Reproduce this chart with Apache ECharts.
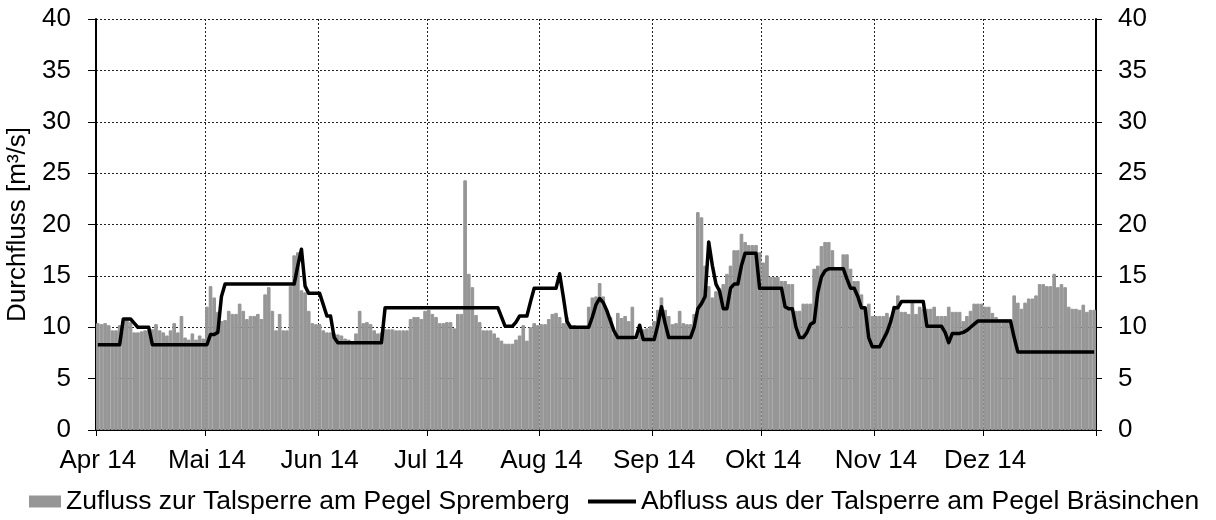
<!DOCTYPE html>
<html>
<head>
<meta charset="utf-8">
<script src="https://cdn.jsdelivr.net/npm/echarts@6/dist/echarts.min.js"></script>
<style>html,body{margin:0;padding:0;background:#fff;}#c{width:1216px;height:520px;}</style>
</head>
<body>
<div id="c"></div>
<script>
// Month definition (Apr–Dec 2014)
const monthLabels = ['Apr 14','Mai 14','Jun 14','Jul 14','Aug 14','Sep 14','Okt 14','Nov 14','Dez 14'];
const monthDays = [30,31,30,31,31,30,31,30,31];
const yTicks = [0,5,10,15,20,25,30,35,40];
const seriesNames = ['Zufluss zur Talsperre am Pegel Spremberg','Abfluss aus der Talsperre am Pegel Bräsinchen'];

// Daily inflow (Zufluss), m³/s
const zuflussApr = [10.4,10.3,10.4,10.2,9.7,9.7,10.2,10.6,10.8,10.5,9.5,9.5,9.6,9.7,9.8,9.8,10.3,9.7,9.5,9.2,9.7,10.4,9.5,11.1,9.0,8.8,9.4,8.8,9.2,8.9];
const zuflussMai = [12.0,14.0,12.9,11.5,10.6,10.7,11.6,11.3,11.3,12.3,11.6,10.8,11.1,11.1,11.3,10.8,13.2,13.9,11.6,9.7,11.3,9.7,9.7,14.0,17.0,17.3,13.6,13.4,11.6,10.4,10.3];
const zuflussJun = [10.3,9.7,9.5,9.5,9.4,9.3,9.2,8.9,8.8,8.6,9.4,11.6,10.4,10.5,10.3,9.7,9.4,9.5,9.8,9.8,9.8,9.7,9.7,9.7,9.7,10.8,11.0,11.0,10.8,11.6];
const zuflussJul = [11.7,11.3,11.0,10.4,10.4,10.5,10.5,9.9,11.3,11.3,24.3,15.2,13.9,11.2,10.5,9.7,9.7,9.7,9.4,9.0,8.7,8.4,8.4,8.4,8.8,9.2,10.2,8.7,10.0,10.4,10.2];
const zuflussAug = [10.3,10.3,10.8,11.3,11.4,11.0,10.4,11.0,10.2,10.2,10.0,9.9,9.9,12.0,12.9,13.0,14.3,13.0,11.6,11.0,9.4,11.4,10.9,11.1,10.6,12.0,8.8,9.9,9.8,9.9,10.1];
const zuflussSep = [10.6,11.7,12.9,11.7,11.1,10.3,10.4,11.6,10.4,10.3,10.3,11.3,21.2,20.7,16.0,14.0,12.9,13.5,13.8,14.2,15.2,16.0,17.5,17.5,19.1,18.3,18.0,18.0,18.0,17.3];
const zuflussOkt = [16.3,17.0,14.9,14.9,14.9,14.5,14.5,14.2,14.2,11.6,11.6,12.3,12.3,12.3,15.7,16.0,17.9,18.3,18.3,17.5,15.8,15.8,17.1,17.1,15.7,14.5,14.5,13.2,12.0,12.3,11.1];
const zuflussNov = [11.1,11.1,11.1,11.4,11.0,12.1,13.1,11.5,11.5,11.3,12.4,11.3,12.0,11.8,11.8,11.8,12.0,11.1,11.1,11.1,12.0,11.5,11.5,11.5,10.6,11.1,11.6,12.3,12.3,12.3];
const zuflussDez = [12.0,12.0,11.4,11.0,10.8,10.8,10.8,10.8,13.1,12.4,11.8,12.4,12.8,12.8,13.1,14.2,14.2,14.0,14.0,15.2,13.9,14.2,13.9,12.0,11.8,11.8,11.7,12.2,11.5,11.7,11.7];

// Daily outflow (Abfluss), m³/s
const abflussApr = [8.3,8.3,8.3,8.3,8.3,8.3,8.3,10.8,10.8,10.8,10.4,10.0,10.0,10.0,10.0,8.3,8.3,8.3,8.3,8.3,8.3,8.3,8.3,8.3,8.3,8.3,8.3,8.3,8.3,8.3];
const abflussMai = [8.3,9.3,9.3,9.5,13.0,14.2,14.2,14.2,14.2,14.2,14.2,14.2,14.2,14.2,14.2,14.2,14.2,14.2,14.2,14.2,14.2,14.2,14.2,14.2,14.2,16.0,17.6,14.0,13.3,13.3,13.3];
const abflussJun = [13.3,12.2,11.1,11.1,9.0,8.5,8.5,8.5,8.5,8.5,8.5,8.5,8.5,8.5,8.5,8.5,8.5,8.5,11.9,11.9,11.9,11.9,11.9,11.9,11.9,11.9,11.9,11.9,11.9,11.9];
const abflussJul = [11.9,11.9,11.9,11.9,11.9,11.9,11.9,11.9,11.9,11.9,11.9,11.9,11.9,11.9,11.9,11.9,11.9,11.9,11.9,11.9,11.0,10.1,10.1,10.1,10.5,11.1,11.1,11.1,12.5,13.8,13.8];
const abflussAug = [13.8,13.8,13.8,13.8,13.8,15.2,13.0,10.6,10.0,10.0,10.0,10.0,10.0,10.0,11.0,12.2,12.8,12.4,11.6,10.6,9.6,9.0,9.0,9.0,9.0,9.0,9.0,10.2,8.8,8.8,8.8];
const abflussSep = [8.8,10.2,12.0,10.4,9.0,9.0,9.0,9.0,9.0,9.0,9.0,10.0,11.8,12.3,13.0,18.3,16.0,14.2,13.5,11.8,11.8,13.8,14.2,14.2,16.0,17.2,17.2,17.2,17.2,13.8];
const abflussOkt = [13.8,13.8,13.8,13.8,13.8,13.8,12.0,11.8,11.8,10.0,9.0,9.0,9.5,10.3,10.5,13.4,14.9,15.5,15.7,15.7,15.7,15.7,15.7,14.7,13.8,13.8,13.0,11.9,11.9,9.0,8.1];
const abflussNov = [8.1,8.1,8.8,9.5,10.5,11.9,11.9,12.5,12.5,12.5,12.5,12.5,12.5,12.5,10.1,10.1,10.1,10.1,10.1,9.5,8.5,9.4,9.4,9.4,9.5,9.7,10.0,10.3,10.6,10.6];
const abflussDez = [10.6,10.6,10.6,10.6,10.6,10.6,10.6,10.6,9.0,7.6,7.6,7.6,7.6,7.6,7.6,7.6,7.6,7.6,7.6,7.6,7.6,7.6,7.6,7.6,7.6,7.6,7.6,7.6,7.6,7.6,7.6];

const zufluss = [].concat(zuflussApr,zuflussMai,zuflussJun,zuflussJul,zuflussAug,zuflussSep,zuflussOkt,zuflussNov,zuflussDez);
const abfluss = [].concat(abflussApr,abflussMai,abflussJun,abflussJul,abflussAug,abflussSep,abflussOkt,abflussNov,abflussDez);

// Build category days and month-start lookup
const days = [];
const monthStart = {};
monthDays.forEach((n, m) => {
  for (let d = 1; d <= n; d++) {
    if (d === 1) monthStart[days.length] = m;
    days.push('2014-' + String(m + 4).padStart(2, '0') + '-' + String(d).padStart(2, '0'));
  }
});
const isMonthStart = (i) => monthStart.hasOwnProperty(i);

const FONT = 'Liberation Sans, Arial, Helvetica, sans-serif';
const chart = echarts.init(document.getElementById('c'), null, {renderer: 'canvas'});
chart.setOption({
  animation: false,
  backgroundColor: '#ffffff',
  textStyle: {fontFamily: FONT, color: '#000'},
  grid: {left: 96, right: 120, top: 19, bottom: 90, containLabel: false, outerBoundsMode: 'none'},
  legend: [
    {
      data: [{name: seriesNames[0], icon: 'rect', itemStyle: {color: '#969696', borderWidth: 0}}],
      left: 29, top: 488,
      itemWidth: 32, itemHeight: 12, padding: 0,
      textStyle: {fontSize: 26.5, color: '#000', fontFamily: FONT}
    },
    {
      data: [{name: seriesNames[1], icon: 'rect', itemStyle: {color: '#000', borderWidth: 0}}],
      left: 588, top: 488,
      itemWidth: 48, itemHeight: 4, padding: 0,
      textStyle: {fontSize: 26.5, color: '#000', fontFamily: FONT}
    }
  ],
  xAxis: {
    type: 'category', data: days, boundaryGap: true,
    axisLine: {show: true, lineStyle: {color: '#000', width: 2}},
    axisTick: {show: true, interval: (i) => isMonthStart(i), length: 6, lineStyle: {color: '#000', width: 1}},
    axisLabel: {
      interval: (i) => isMonthStart(i), margin: 18, fontSize: 26, color: '#000', fontFamily: FONT,
      formatter: (v, i) => monthLabels[monthStart[i]]
    },
    splitLine: {show: true, interval: (i) => isMonthStart(i), lineStyle: {color: '#222', width: 1, type: [2, 2]}}
  },
  yAxis: [
    {
      type: 'value', min: 0, max: 40, interval: 5, position: 'left',
      name: 'Durchfluss [m³/s]', nameLocation: 'middle', nameGap: 55,
      nameTextStyle: {fontSize: 26, color: '#000', fontFamily: FONT},
      axisLine: {show: true, lineStyle: {color: '#000', width: 2}},
      axisTick: {show: true, length: 8, lineStyle: {color: '#000', width: 1}},
      axisLabel: {margin: 25, fontSize: 26, color: '#000', fontFamily: FONT,
        formatter: (v) => yTicks.indexOf(v) >= 0 ? String(v) : ''},
      splitLine: {show: true, lineStyle: {color: '#222', width: 1, type: [2, 2]}}
    },
    {
      type: 'value', min: 0, max: 40, interval: 5, position: 'right',
      axisLine: {show: true, lineStyle: {color: '#000', width: 2}},
      axisTick: {show: true, length: 6, lineStyle: {color: '#000', width: 1}},
      axisLabel: {margin: 22, fontSize: 26, color: '#000', fontFamily: FONT},
      splitLine: {show: false}
    }
  ],
  series: [
    {
      name: seriesNames[0], type: 'bar', data: zufluss, yAxisIndex: 0,
      barCategoryGap: '0%', barGap: '0%',
      itemStyle: {color: '#969696', borderColor: '#969696', borderWidth: 1},
      z: 2
    },
    {
      name: seriesNames[1], type: 'line', data: abfluss, yAxisIndex: 0,
      symbol: 'none', showSymbol: false, smooth: false,
      lineStyle: {color: '#000', width: 3.5, join: 'round'},
      itemStyle: {color: '#000'},
      z: 3
    }
  ]
});
</script>
</body>
</html>
